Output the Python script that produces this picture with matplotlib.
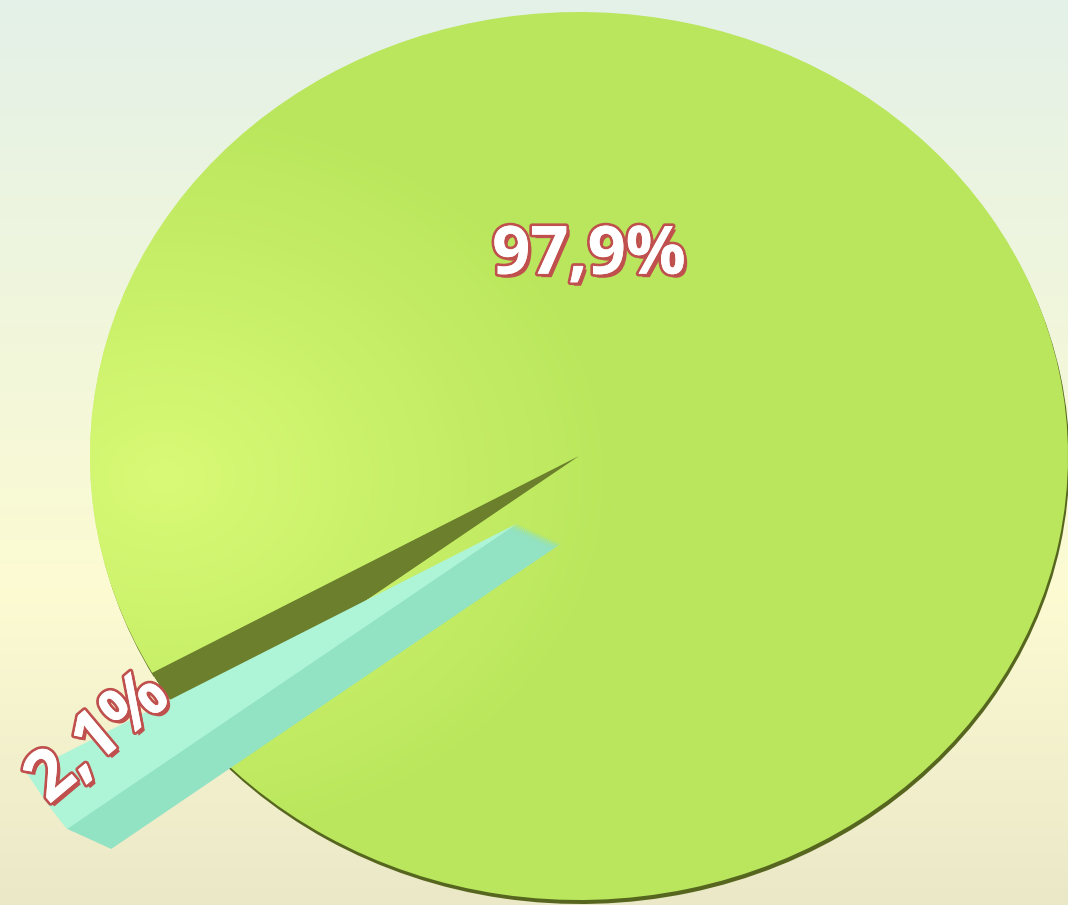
import matplotlib.pyplot as plt
import matplotlib.patheffects as pe
from matplotlib.patches import Wedge
import numpy as np

labels = ["97,9%", "2,1%"]
shares = [97.9, 2.1]
colors = ["#b9e65c", "#aef5d8"]
small_mid = 213.0   # direction of the small slice, degrees

fig = plt.figure(figsize=(10.68, 9.05), dpi=100)
ax = fig.add_axes([0, 0, 1, 1])

# limits so the pie becomes the wide ellipse of the picture
xlim = (-579 / 489, (1068 - 579) / 489)
ylim = (-449 / 444, 456 / 444)

# background gradient
rows = np.linspace(0, 1, 300)[:, None]
top = np.array([228, 241, 232]) / 255
mid = np.array([252, 251, 210]) / 255
bot = np.array([235, 232, 200]) / 255
t1 = np.clip(rows / 0.65, 0, 1)
t2 = np.clip((rows - 0.65) / 0.35, 0, 1)
bg = top * (1 - t1) + mid * t1
bg = bg * (1 - t2) + bot * t2
bg = np.repeat(bg[:, None, :], 2, axis=1)
ax.imshow(bg, extent=[xlim[0], xlim[1], ylim[0], ylim[1]], origin="upper",
          aspect="auto", zorder=0)

frac = shares[1] / sum(shares)
start = small_mid + 360 * frac / 2 - 360
explode = [0, 0.15]

wedges, _ = ax.pie(shares, startangle=start, explode=explode, radius=1.0,
                   colors=colors, wedgeprops=dict(linewidth=0))
big, small = wedges
big.set_zorder(2)
# the near slice sits lower and looks longer in the 3D view
small.set_center((small.center[0], small.center[1] - 0.07))
small.set_radius(1.15)
small.set_zorder(3)

# dark rim under the big pie
rim = Wedge((big.center[0] + 0.003, big.center[1] - 0.009), big.r,
            big.theta1, big.theta2, facecolor="#56661f", linewidth=0, zorder=1)
ax.add_patch(rim)

# side wall of the big pie seen through the gap
gap = Wedge((0, 0), 1.0, small.theta1, small.theta2, transform=ax.transData)
for k in np.linspace(0, 1, 25)[1:]:
    p = Wedge((0, -0.085 * k), 1.0, big.theta1, big.theta2,
              facecolor="#6b7f2c", linewidth=0, zorder=1.9)
    ax.add_patch(p)
    p.set_clip_path(gap)

# thickness of the small slice
for k in np.linspace(0, 1, 40)[1:]:
    ax.add_patch(Wedge((small.center[0] + 0.09 * k, small.center[1] - 0.045 * k),
                       small.r, small.theta1, small.theta2,
                       facecolor="#92e2c4", linewidth=0, zorder=2.8))

# light highlight on the left of the big slice
xx, yy = np.meshgrid(np.linspace(-1, 1, 300), np.linspace(1, -1, 300))
d = np.hypot((xx + 0.85) / 1.0, (yy + 0.05) / 0.9)
alpha = np.clip(1 - d / 0.95, 0, 1) * 0.8
hl = np.zeros((300, 300, 4))
hl[..., 0] = 225 / 255
hl[..., 1] = 255 / 255
hl[..., 2] = 125 / 255
hl[..., 3] = alpha
im = ax.imshow(hl, extent=[-1, 1, -1, 1], aspect="auto", zorder=2.5)
im.set_clip_path(big)

ax.set_xlim(*xlim)
ax.set_ylim(*ylim)
ax.set_aspect("auto")
ax.axis("off")

effects = [pe.SimplePatchShadow(offset=(2.5, -2.5), shadow_rgbFace="#c0504d", alpha=1),
           pe.withStroke(linewidth=4, foreground="#c0504d"),
           pe.Normal()]

ax.text(0.02, 0.45, labels[0], ha="center", va="center", fontsize=48,
        fontweight="bold", family="Open Sans", color="white",
        path_effects=effects, zorder=5)

a = np.radians(small_mid)
ax.text(1.17 * np.cos(a), 1.17 * np.sin(a), labels[1], ha="center",
        va="center", fontsize=50, fontweight="bold", family="Open Sans",
        color="white", rotation=40, rotation_mode="anchor",
        path_effects=effects, zorder=5)

fig.savefig("out.png", dpi=100)
